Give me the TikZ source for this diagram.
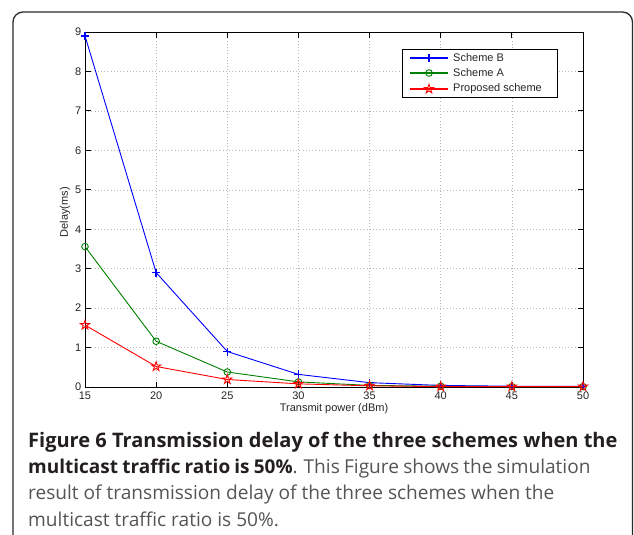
\documentclass[tikz,border=0pt]{standalone}
\usepackage{fontspec}
\setmainfont{Liberation Sans}
\newfontfamily\capfont{Open Sans}
\definecolor{mblue}{rgb}{0,0,1}
\definecolor{mgreen}{rgb}{0,0.5,0}
\definecolor{mred}{rgb}{1,0,0}
\definecolor{capdark}{HTML}{231F20}
\definecolor{capgray}{HTML}{555555}
\definecolor{framecol}{HTML}{2B2B2B}
\newcommand{\capbold}[2][20]{{\fontsize{#1}{22}\selectfont\bfseries\color{capdark}#2}}
\tikzset{
  gridline/.style={gray!55, line width=0.5pt, dash pattern=on 0.8pt off 2.4pt},
  axisline/.style={black, line width=0.8pt},
  ticklabel/.style={font=\fontsize{11}{12}\selectfont, inner sep=0pt, text=black!85},
  curve/.style={line width=0.9pt, line join=round},
  plusmark/.pic={\draw[line width=1.4pt] (-4pt,0pt) -- (4pt,0pt) (0pt,-4pt) -- (0pt,4pt);},
  circmark/.pic={\draw[line width=0.9pt] (0pt,0pt) circle (3.3pt);},
  starmark/.pic={\draw[line width=0.9pt, line join=miter]
      (90:4.8pt) -- (126:1.85pt) -- (162:4.8pt) -- (198:1.85pt) -- (234:4.8pt)
      -- (270:1.85pt) -- (306:4.8pt) -- (342:1.85pt) -- (18:4.8pt) -- (54:1.85pt) -- cycle;},
  capline/.style={anchor=base west, inner sep=0pt, text=capgray,
                  font=\capfont\fontsize{19.1}{20}\selectfont}
}
\begin{document}
\begin{tikzpicture}[x=1pt,y=-1pt]
\useasboundingbox (0,0) rectangle (634,535);
\fill[white] (0,0) rectangle (634,535);

% outer panel frame, open at the bottom
\draw[framecol, line width=1.3pt, rounded corners=10pt]
  (13,540) -- (13,12) -- (632.5,12) -- (632.5,540);

% ---- plot area: x unit = 5 dBm, y unit = 1 ms ----
\begin{scope}[shift={(85,387)}, x={(71.143pt,0pt)}, y={(0pt,39.444pt)}]
  % dotted grid
  \foreach \i in {1,...,6} \draw[gridline] (\i,0) -- (\i,9);
  \foreach \j in {1,...,8} \draw[gridline] (0,\j) -- (7,\j);
  % inward ticks on all four sides
  \foreach \i in {1,...,6} {
    \draw[axisline] (\i,0) -- ++(0pt,5.5pt);
    \draw[axisline] (\i,9) -- ++(0pt,-5.5pt);
  }
  \foreach \j in {1,...,8} {
    \draw[axisline] (0,\j) -- ++(5.5pt,0pt);
    \draw[axisline] (7,\j) -- ++(-5.5pt,0pt);
  }
  \draw[axisline] (0,0) rectangle (7,9);
  % tick labels
  \foreach \i/\v in {0/15,1/20,2/25,3/30,4/35,5/40,6/45,7/50}
    \node[ticklabel, anchor=base] (xt\v) at ([yshift=-12.5pt]\i,0) {\v};
  \foreach \j in {0,...,9}
    \node[ticklabel, anchor=east] (yt\j) at ([xshift=-3.5pt]0,\j) {\j};
  % axis titles
  \node[ticklabel] (xlab) at ([yshift=-22pt]3.5,0) {Transmit power (dBm)};
  \node[ticklabel, rotate=90] (ylab) at ([xshift=-20pt]0,4.43) {Delay(ms)};

  % Scheme B
  \draw[curve, mblue] (0,8.9) -- (1,2.9) -- (2,0.9) -- (3,0.32) -- (4,0.11) -- (5,0.04) -- (6,0.02) -- (7,0.02);
  \foreach \p in {(0,8.9),(1,2.9),(2,0.9),(3,0.32),(4,0.11),(5,0.04),(6,0.02),(7,0.02)}
    \pic[mblue] at \p {plusmark};
  % Scheme A
  \draw[curve, mgreen] (0,3.56) -- (1,1.16) -- (2,0.38) -- (3,0.13) -- (4,0.04) -- (5,0.02) -- (6,0.01) -- (7,0.01);
  \foreach \p in {(0,3.56),(1,1.16),(2,0.38),(3,0.13),(4,0.04),(5,0.02),(6,0.01),(7,0.01)}
    \pic[mgreen] at \p {circmark};
  % Proposed scheme
  \draw[curve, mred] (0,1.57) -- (1,0.52) -- (2,0.19) -- (3,0.08) -- (4,0.03) -- (5,0.01) -- (6,0.01) -- (7,0.01);
  \foreach \p in {(0,1.57),(1,0.52),(2,0.19),(3,0.08),(4,0.03),(5,0.01),(6,0.01),(7,0.01)}
    \pic[mred] at \p {starmark};
\end{scope}

% ---- legend ----
\draw[draw=black, fill=white, line width=0.7pt] (402,49) rectangle (557,97);
\draw[curve, mblue, line width=1.3pt] (410,58) -- (448,58);
\pic[mblue] at (429,58) {plusmark};
\node[ticklabel, anchor=west] (legB) at (453,58) {Scheme B};
\draw[curve, mgreen, line width=1.3pt] (410,73) -- (448,73);
\pic[mgreen] at (429,73) {circmark};
\node[ticklabel, anchor=west] (legA) at (453,73) {Scheme A};
\draw[curve, mred, line width=1.3pt] (410,89) -- (448,89);
\pic[mred] at (429,89) {starmark};
\node[ticklabel, anchor=west] (legP) at (453,89) {Proposed scheme};

% ---- caption ----
\node[capline] (cap1) at (28,447)
  {\capbold{Figure 6 Transmission delay of the three schemes when the}};
\node[capline] (cap2) at (28,473)
  {\spaceskip=4.2pt\capbold[19]{multicast traffic ratio is 50\%}. This Figure shows the simulation};
\node[capline] (cap3) at (28,499.5)
  {result of transmission delay of the three schemes when the};
\node[capline] (cap4) at (28,526)
  {multicast traffic ratio is 50\%.};
\end{tikzpicture}
\end{document}
